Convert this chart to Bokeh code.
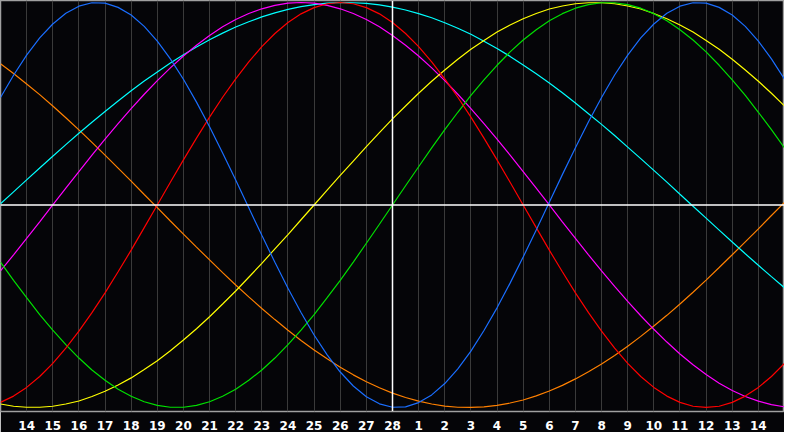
from bokeh.plotting import figure
from bokeh.models import Span, FixedTicker
from bokeh.embed import file_html
from bokeh.resources import INLINE

# half-day sample positions, as day offsets from "today" (the 28th)
day_offsets = [i / 2 for i in range(-30, 31)]
tick_offsets = list(range(-14, 15))
tick_labels = ["14", "15", "16", "17", "18", "19", "20", "21", "22", "23", "24", "25", "26", "27", "28",
               "1", "2", "3", "4", "5", "6", "7", "8", "9", "10", "11", "12", "13", "14"]

# cycle values, every half day (-15 .. +15)
physical = [0.531, 0.641, 0.740, 0.825, 0.894, 0.947, 0.982, 0.999, 0.997, 0.976, 0.938, 0.882, 0.809,
            0.722, 0.621, 0.508, 0.386, 0.257, 0.123, -0.014, -0.150, -0.283, -0.411, -0.531, -0.642,
            -0.740, -0.825, -0.894, -0.947, -0.982, -0.999, -0.997, -0.976, -0.938, -0.882, -0.809,
            -0.722, -0.620, -0.508, -0.386, -0.257, -0.123, 0.014, 0.150, 0.283, 0.411, 0.531, 0.642,
            0.740, 0.825, 0.894, 0.947, 0.982, 0.999, 0.997, 0.976, 0.938, 0.882, 0.809, 0.722, 0.621]
emotional = [-0.975, -0.944, -0.901, -0.847, -0.782, -0.707, -0.623, -0.532, -0.434, -0.330, -0.223,
             -0.112, 0.0, 0.112, 0.223, 0.330, 0.434, 0.532, 0.623, 0.707, 0.782, 0.847, 0.901, 0.944,
             0.975, 0.994, 1.0, 0.994, 0.975, 0.944, 0.901, 0.847, 0.782, 0.707, 0.623, 0.532, 0.434,
             0.330, 0.223, 0.112, 0.0, -0.112, -0.223, -0.330, -0.434, -0.532, -0.623, -0.707, -0.782,
             -0.847, -0.901, -0.944, -0.975, -0.994, -1.0, -0.994, -0.975, -0.944, -0.901, -0.847, -0.782]
intellectual = [-0.282, -0.372, -0.458, -0.541, -0.618, -0.690, -0.756, -0.815, -0.866, -0.910, -0.945,
                -0.972, -0.990, -0.999, -0.999, -0.990, -0.972, -0.945, -0.910, -0.866, -0.815, -0.756,
                -0.690, -0.618, -0.541, -0.458, -0.372, -0.282, -0.189, -0.095, 0.0, 0.095, 0.189, 0.282,
                0.372, 0.458, 0.541, 0.618, 0.690, 0.756, 0.815, 0.866, 0.910, 0.945, 0.972, 0.990, 0.999,
                0.999, 0.990, 0.972, 0.945, 0.910, 0.866, 0.815, 0.756, 0.690, 0.618, 0.541, 0.458, 0.372,
                0.282]
aesthetic = [-0.983, -0.994, -0.999, -0.999, -0.994, -0.983, -0.968, -0.946, -0.920, -0.889, -0.854,
             -0.813, -0.769, -0.720, -0.667, -0.611, -0.552, -0.489, -0.425, -0.357, -0.288, -0.217,
             -0.146, -0.073, 0.0, 0.073, 0.146, 0.217, 0.288, 0.357, 0.425, 0.489, 0.552, 0.611, 0.667,
             0.720, 0.769, 0.813, 0.854, 0.889, 0.920, 0.946, 0.968, 0.983, 0.994, 0.999, 0.999, 0.994,
             0.983, 0.968, 0.946, 0.920, 0.889, 0.854, 0.813, 0.769, 0.720, 0.667, 0.611, 0.552, 0.489]
intuitive = [-0.325, -0.246, -0.165, -0.083, 0.0, 0.083, 0.165, 0.246, 0.325, 0.402, 0.476, 0.547, 0.614,
             0.677, 0.736, 0.789, 0.837, 0.880, 0.916, 0.946, 0.969, 0.986, 0.997, 1.0, 0.997, 0.986,
             0.969, 0.946, 0.916, 0.880, 0.837, 0.789, 0.736, 0.677, 0.614, 0.547, 0.476, 0.402, 0.325,
             0.246, 0.165, 0.083, 0.0, -0.083, -0.165, -0.246, -0.325, -0.402, -0.476, -0.547, -0.614,
             -0.677, -0.736, -0.789, -0.837, -0.880, -0.916, -0.946, -0.969, -0.986, -0.997]
awareness = [0.698, 0.649, 0.598, 0.545, 0.489, 0.431, 0.371, 0.309, 0.246, 0.182, 0.118, 0.052, -0.013,
             -0.079, -0.144, -0.208, -0.271, -0.334, -0.395, -0.454, -0.511, -0.566, -0.619, -0.669,
             -0.716, -0.760, -0.801, -0.839, -0.873, -0.903, -0.929, -0.951, -0.969, -0.983, -0.993,
             -0.999, -1.0, -0.997, -0.990, -0.978, -0.963, -0.943, -0.919, -0.891, -0.859, -0.824,
             -0.785, -0.743, -0.698, -0.649, -0.598, -0.545, -0.489, -0.431, -0.371, -0.309, -0.246,
             -0.182, -0.118, -0.052, 0.013]
spiritual = [0.006, 0.065, 0.124, 0.183, 0.241, 0.298, 0.354, 0.409, 0.462, 0.514, 0.564, 0.612, 0.657,
             0.701, 0.742, 0.780, 0.816, 0.849, 0.879, 0.905, 0.929, 0.949, 0.966, 0.980, 0.990, 0.997,
             1.0, 0.999, 0.996, 0.988, 0.977, 0.963, 0.945, 0.925, 0.900, 0.873, 0.843, 0.809, 0.773,
             0.734, 0.692, 0.648, 0.602, 0.554, 0.504, 0.451, 0.398, 0.343, 0.286, 0.229, 0.171, 0.113,
             0.053, -0.006, -0.065, -0.124, -0.183, -0.241, -0.298, -0.354, -0.409]

series = [
    (awareness, "#ff8000"),
    (spiritual, "#00ffff"),
    (intuitive, "#ff00ff"),
    (aesthetic, "#ffff00"),
    (intellectual, "#00e000"),
    (emotional, "#ff0000"),
    (physical, "#1a6eff"),
]

bg = "#050508"
p = figure(width=784, height=432, output_backend="svg", toolbar_location=None,
           x_range=(-15, 15), y_range=(-1.02, 1.01),
           min_border_left=0, min_border_right=0, min_border_top=0, min_border_bottom=20)
p.background_fill_color = bg
p.border_fill_color = bg
p.outline_line_color = "#a0a0a0"
p.outline_line_width = 1.5

p.yaxis.visible = False
p.ygrid.visible = False

ticker = FixedTicker(ticks=tick_offsets)
p.xaxis.ticker = ticker
p.xaxis.major_label_overrides = {o: l for o, l in zip(tick_offsets, tick_labels)}
p.xaxis.axis_line_color = None
p.xaxis.major_tick_line_color = None
p.xaxis.minor_tick_line_color = None
p.xaxis.major_label_standoff = 3
p.xaxis.major_label_text_color = "white"
p.xaxis.major_label_text_font = "DejaVu Sans"
p.xaxis.major_label_text_font_style = "bold"
p.xaxis.major_label_text_font_size = "12px"

p.xgrid.ticker = ticker
p.xgrid.grid_line_color = "#3a3a3a"
p.xgrid.grid_line_width = 1

p.add_layout(Span(location=0, dimension="width", line_color="white", line_width=1.5))
p.add_layout(Span(location=0, dimension="height", line_color="white", line_width=1.5))

for vals, col in series:
    p.line(day_offsets, vals, line_color=col, line_width=1.2)

open("out.html", "w").write(file_html(p, INLINE))
